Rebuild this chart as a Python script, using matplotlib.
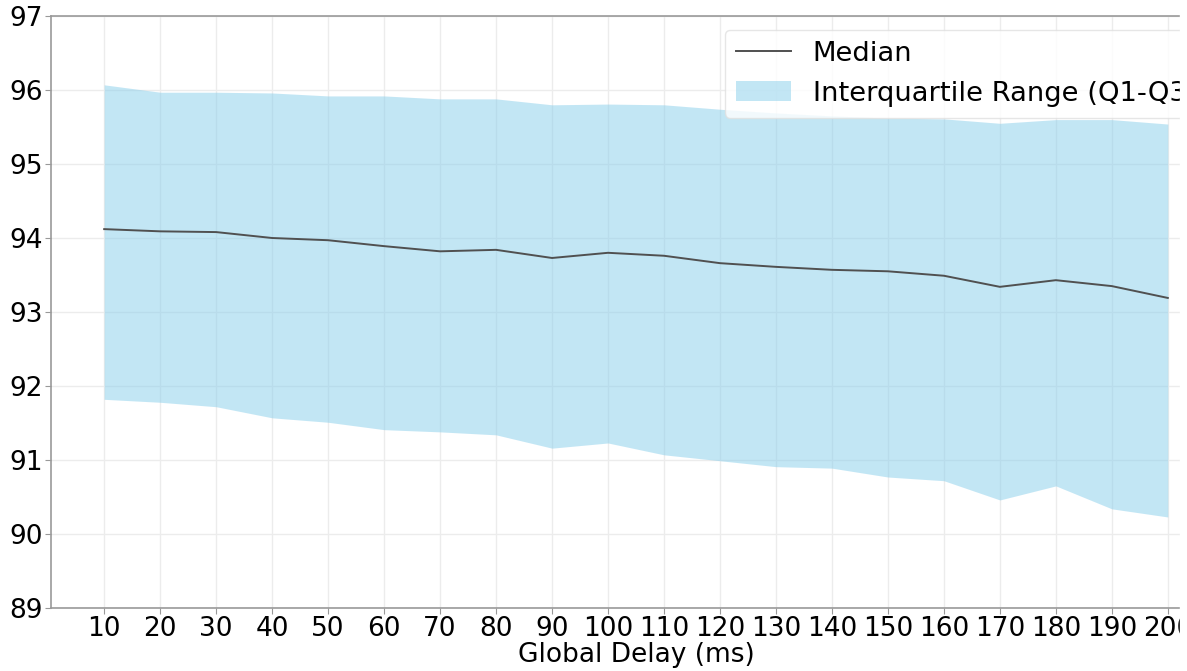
import numpy as np
import matplotlib.pyplot as plt
from matplotlib.patches import Rectangle

# valores
retardo = [10, 20, 30, 40, 50, 60, 70, 80, 90, 100,
           110, 120, 130, 140, 150, 160, 170, 180, 190, 200]
mediana = [94.12, 94.09, 94.08, 94.00, 93.97, 93.89, 93.82, 93.84, 93.73, 93.80,
           93.76, 93.66, 93.61, 93.57, 93.55, 93.49, 93.34, 93.43, 93.35, 93.19]
q3 = [96.07, 95.97, 95.97, 95.96, 95.92, 95.92, 95.88, 95.88, 95.80, 95.81,
      95.80, 95.74, 95.69, 95.65, 95.62, 95.61, 95.55, 95.60, 95.60, 95.54]
q1 = [91.82, 91.78, 91.72, 91.57, 91.51, 91.41, 91.38, 91.34, 91.16, 91.23,
      91.07, 90.99, 90.91, 90.89, 90.77, 90.72, 90.46, 90.65, 90.34, 90.23]

W, H = 1187, 671
fig = plt.figure(figsize=(W / 100, H / 100), dpi=100)
# el eje sigue más allá del borde derecho (la imagen original está recortada)
ax = fig.add_axes([51 / W, (H - 608) / H, (1221 - 51) / W, (608 - 16) / H])

ax.plot(retardo, mediana, color='#505050', lw=1.4, label='Median')
ax.fill_between(retardo, q1, q3, color='skyblue', alpha=0.5, lw=0,
                label='Interquartile Range (Q1-Q3)')

ax.set_xlim(0.5, 209.5)
ax.set_ylim(89, 97)
ax.set_xticks(retardo)
ax.set_yticks(range(89, 98))
ax.tick_params(labelsize=19, color='#999999', length=4, pad=2)
ax.set_xlabel('Global Delay (ms)', fontsize=19, labelpad=0)
ax.grid(True, color='#ececec', lw=1)
ax.set_axisbelow(True)
for s in ax.spines.values():
    s.set_color('#999999')
    s.set_linewidth(1.2)

fig.legend(loc='upper left', bbox_to_anchor=(725 / W, 1 - 30 / H),
           fontsize=19.7, framealpha=0.8, edgecolor='#e0e0e0', borderaxespad=0,
           handlelength=2.0)

# franja blanca del recorte a la derecha
fig.add_artist(Rectangle((1180 / W, 0), 7 / W, 1, transform=fig.transFigure,
                         color='white', zorder=10))

plt.savefig('out.png', dpi=100)
plt.close()
